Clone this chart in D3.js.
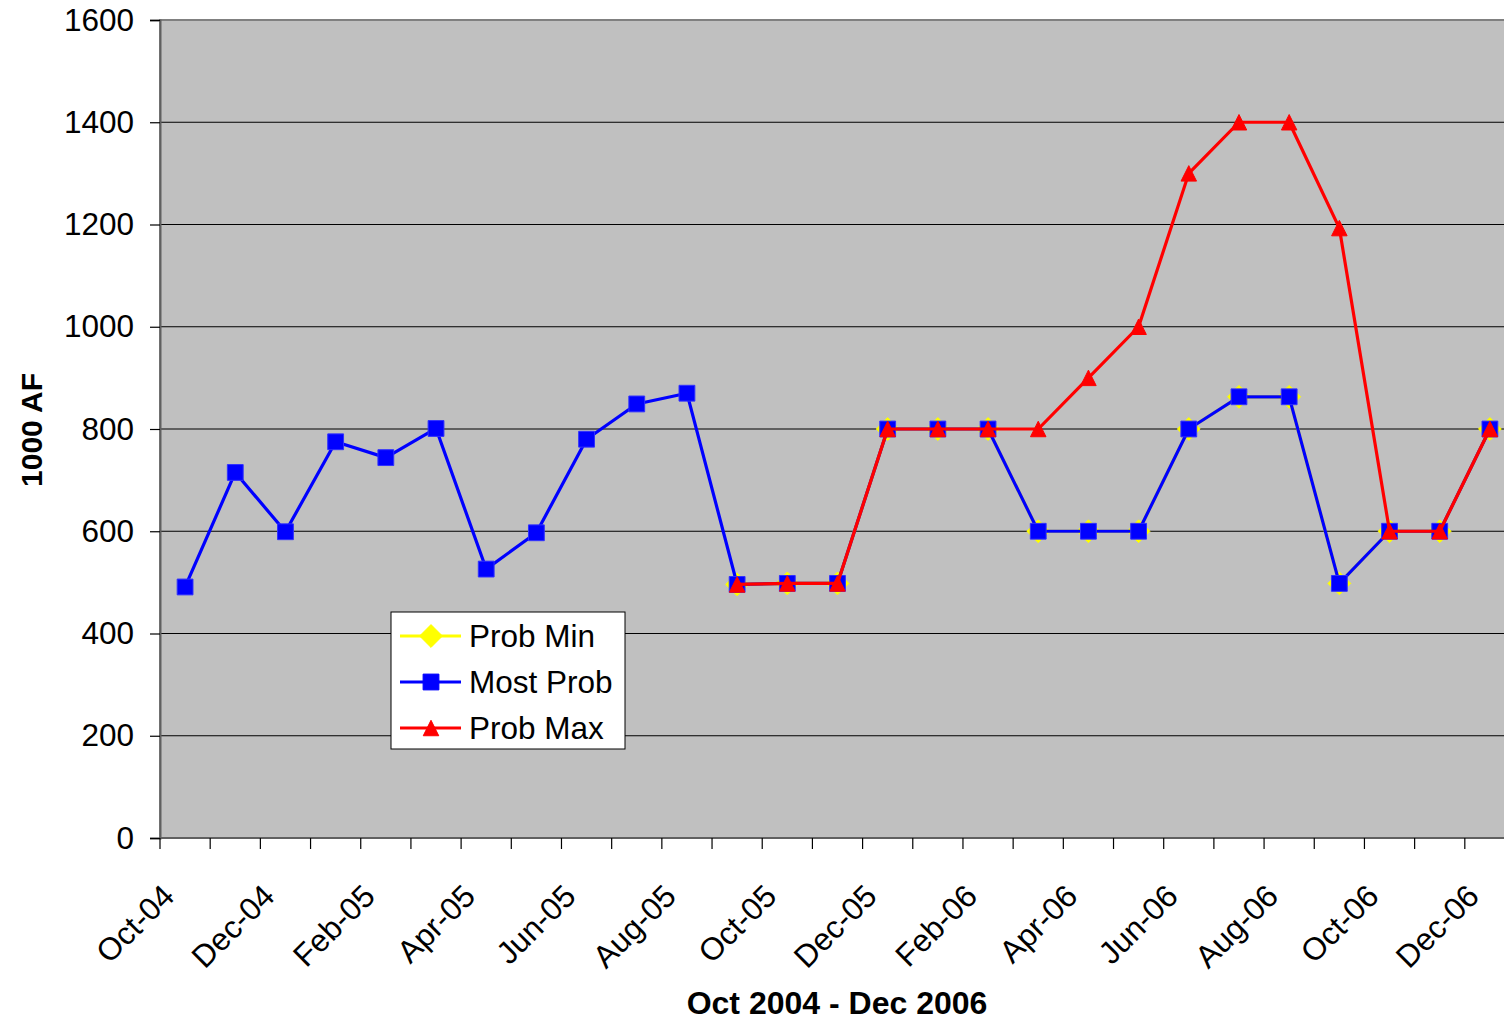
<!DOCTYPE html>
<html>
<head>
<meta charset="utf-8">
<script src="https://cdn.jsdelivr.net/npm/d3@7/dist/d3.min.js"></script>
<style>
  html, body { margin: 0; padding: 0; background: #fff; overflow: hidden; }
  svg { display: block; font-family: "Liberation Sans", Arial, sans-serif; }
</style>
</head>
<body>
<svg id="chart" width="1504" height="1022"></svg>
<script>
const months = ["Oct-04","Nov-04","Dec-04","Jan-05","Feb-05","Mar-05","Apr-05","May-05","Jun-05","Jul-05","Aug-05","Sep-05",
  "Oct-05","Nov-05","Dec-05","Jan-06","Feb-06","Mar-06","Apr-06","May-06","Jun-06","Jul-06","Aug-06","Sep-06",
  "Oct-06","Nov-06","Dec-06"];
const probMin = [null,null,null,null,null,null,null,null,null,null,null,496,
  498,498,800,800,800,600,600,600,800,863,863,498,600,600,800];
const mostProb = [491,715,599,775,744,801,526,597,780,849,870,496,
  498,498,800,800,800,600,600,600,800,863,863,498,600,600,800];
const probMax = [null,null,null,null,null,null,null,null,null,null,null,496,
  498,498,800,800,800,800,900,1000,1300,1400,1400,1193,600,600,800];
const yTicks = [0,200,400,600,800,1000,1200,1400,1600];
const seriesNames = ["Prob Min","Most Prob","Prob Max"];

(function () {
const svg = d3.select("#chart");
const pL = 160, pT = 20, pB = 838, pR = 1515;

const x = d3.scaleBand().domain(months).range([pL, pR]).padding(0);
const y = d3.scaleLinear().domain([0, 1600]).range([pB, pT]);
const cx = m => x(m) + x.bandwidth() / 2;

// plot background
svg.append("rect").attr("x", pL).attr("y", pT)
  .attr("width", pR - pL).attr("height", pB - pT)
  .attr("fill", "#C0C0C0").attr("stroke", "#808080").attr("stroke-width", 2);

// gridlines
svg.append("g").selectAll("line").data(yTicks.filter(v => v > 0 && v < 1600)).join("line")
  .attr("x1", pL).attr("x2", pR)
  .attr("y1", d => y(d)).attr("y2", d => y(d))
  .attr("stroke", "#000").attr("stroke-width", 1.2);

// y axis
const yAxis = d3.axisLeft(y).tickValues(yTicks).tickSize(10).tickPadding(16).tickFormat(d3.format("d"));
const gy = svg.append("g").attr("transform", `translate(${pL},0)`).call(yAxis);
gy.select(".domain").attr("stroke", "#606060").attr("stroke-width", 2);
gy.selectAll(".tick line").attr("stroke", "#000").attr("stroke-width", 1.2);
gy.selectAll(".tick text").attr("font-size", 31.5).attr("fill", "#000")
  .attr("font-family", "Liberation Sans, Arial, sans-serif");

// x axis line
svg.append("line").attr("x1", pL).attr("x2", pR).attr("y1", pB).attr("y2", pB)
  .attr("stroke", "#606060").attr("stroke-width", 2);
// x ticks at category boundaries
const boundaries = months.map(m => x(m)).concat([pR]);
svg.append("g").selectAll("line").data(boundaries).join("line")
  .attr("x1", d => d).attr("x2", d => d).attr("y1", pB).attr("y2", pB + 11)
  .attr("stroke", "#000").attr("stroke-width", 1.2);
// x labels every other month
svg.append("g").selectAll("text").data(months.filter((m, i) => i % 2 === 0)).join("text")
  .attr("transform", d => `translate(${cx(d) - 9},${898}) rotate(-45)`)
  .attr("text-anchor", "end")
  .attr("font-size", 31.5).attr("fill", "#000")
  .text(d => d);

// axis titles
svg.append("text").attr("transform", `translate(42,430) rotate(-90)`)
  .attr("text-anchor", "middle").attr("font-size", 30).attr("font-weight", "bold")
  .text("1000 AF");
svg.append("text").attr("x", 837).attr("y", 1014)
  .attr("text-anchor", "middle").attr("font-size", 32).attr("font-weight", "bold")
  .text("Oct 2004 - Dec 2006");

// series
const lineGen = d3.line().defined(d => d.v != null).x(d => cx(d.m)).y(d => y(d.v));
const toPts = arr => months.map((m, i) => ({ m, v: arr[i] }));

const diamondType = { draw(ctx, size) { const r = Math.sqrt(size / 2);
  ctx.moveTo(0, -r); ctx.lineTo(r, 0); ctx.lineTo(0, r); ctx.lineTo(-r, 0); ctx.closePath(); } };
const triType = { draw(ctx, size) { const r = Math.sqrt(size) / 2;
  ctx.moveTo(0, -r); ctx.lineTo(r, r); ctx.lineTo(-r, r); ctx.closePath(); } };

const diamond = d3.symbol().type(diamondType).size(260);
const square = d3.symbol().type(d3.symbolSquare).size(250);
const tri = d3.symbol().type(triType).size(240);

function drawSeries(arr, color, sym, fill, strokeCol) {
  const pts = toPts(arr);
  svg.append("path").datum(pts).attr("d", lineGen)
    .attr("fill", "none").attr("stroke", color).attr("stroke-width", 3.2)
    .attr("stroke-linejoin", "round");
  svg.append("g").selectAll("path").data(pts.filter(d => d.v != null)).join("path")
    .attr("transform", d => `translate(${cx(d.m)},${y(d.v)})`)
    .attr("d", sym).attr("fill", fill).attr("stroke", strokeCol).attr("stroke-width", 1);
}
drawSeries(probMin, "#FFFF00", diamond, "#FFFF00", "#FFFF00");
drawSeries(mostProb, "#0000FF", square, "#0000FF", "#3030FF");
drawSeries(probMax, "#FF0000", tri, "#FF0000", "#FF0000");

// legend
const lg = svg.append("g");
lg.append("rect").attr("x", 391).attr("y", 612).attr("width", 234).attr("height", 137)
  .attr("fill", "#fff").attr("stroke", "#000").attr("stroke-width", 1);
const legendItems = [
  { name: seriesNames[0], color: "#FFFF00", sym: diamond },
  { name: seriesNames[1], color: "#0000FF", sym: square },
  { name: seriesNames[2], color: "#FF0000", sym: tri }
];
legendItems.forEach((it, i) => {
  const ly = 636 + i * 46;
  lg.append("line").attr("x1", 400).attr("x2", 461).attr("y1", ly).attr("y2", ly)
    .attr("stroke", it.color).attr("stroke-width", 3);
  lg.append("path").attr("transform", `translate(431,${ly})`).attr("d", it.sym)
    .attr("fill", it.color).attr("stroke", it.color).attr("stroke-width", 1);
  lg.append("text").attr("x", 469).attr("y", ly).attr("dy", "0.36em")
    .attr("font-size", 31.5).attr("fill", "#000").text(it.name);
});
})();
</script>
</body>
</html>
